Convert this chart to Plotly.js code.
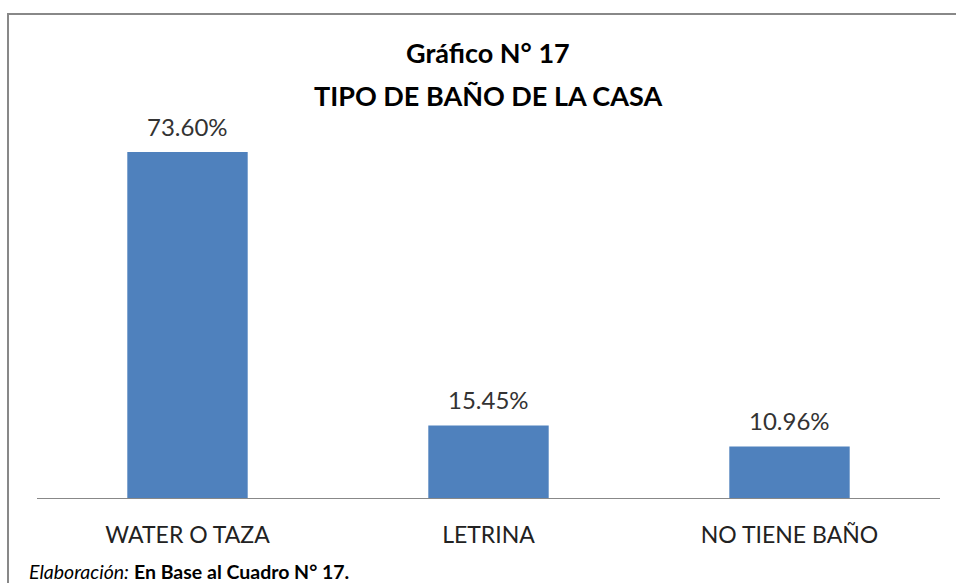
<!DOCTYPE html>
<html><head><meta charset="utf-8">
<script src="https://cdn.plot.ly/plotly-3.0.1.min.js"></script>
<style>html,body{margin:0;padding:0;background:#fff}#chart{width:956px;height:583px}</style>
</head><body><div id="chart"></div>
<script>
const categories = ["WATER O TAZA", "LETRINA", "NO TIENE BAÑO"];
const values = [73.60, 15.45, 10.96];
const valueLabels = ["73.60%", "15.45%", "10.96%"];
const titleLines = ["Gráfico N° 17", "TIPO DE BAÑO DE LA CASA"];
const footnote = "<i>Elaboración:</i> <b>En Base al Cuadro N° 17.</b>";

const font = "Lato, 'Open Sans', sans-serif";
const trace = {
  type: "bar", x: categories, y: values, width: 0.4,
  marker: {color: "#4F81BD"}, hoverinfo: "skip"
};
const annotations = categories.map((c, i) => ({
  x: c, y: values[i], xref: "x", yref: "y", text: valueLabels[i],
  showarrow: false, yanchor: "bottom", yshift: 9,
  font: {family: font, size: 24, color: "#333"}
}));
const titleShifts = [70, 27];
titleLines.forEach((t, i) => annotations.push({
  xref: "paper", yref: "paper", x: 0.4994, y: 1.0, yanchor: "middle", yshift: titleShifts[i],
  text: "<b>" + t + "</b>", showarrow: false,
  font: {family: font, size: 27, color: "#000"}
}));
annotations.push({
  xref: "paper", yref: "paper", x: -0.0110, xanchor: "left", y: 0, yanchor: "middle", yshift: -73,
  text: footnote, showarrow: false, font: {family: font, size: 19.5, color: "#000"}
});
const layout = {
  width: 956, height: 583,
  margin: {l: 37, r: 16, t: 122, b: 85},
  paper_bgcolor: "#fff", plot_bgcolor: "#fff",
  showlegend: false,
  xaxis: {showline: true, linecolor: "#888", linewidth: 1, ticks: "", showgrid: false,
          tickfont: {family: font, size: 23, color: "#222"}, ticklabelstandoff: 16},
  yaxis: {range: [0, 80], visible: false, showgrid: false, zeroline: false},
  annotations: annotations,
  shapes: [{type: "rect", xref: "paper", yref: "paper", x0: -0.0321, x1: 1.03, y0: -0.3, y1: 1.287,
            line: {color: "#888", width: 2}, fillcolor: "rgba(0,0,0,0)", layer: "below"}]
};
Plotly.newPlot("chart", [trace], layout, {staticPlot: true});
</script></body></html>
